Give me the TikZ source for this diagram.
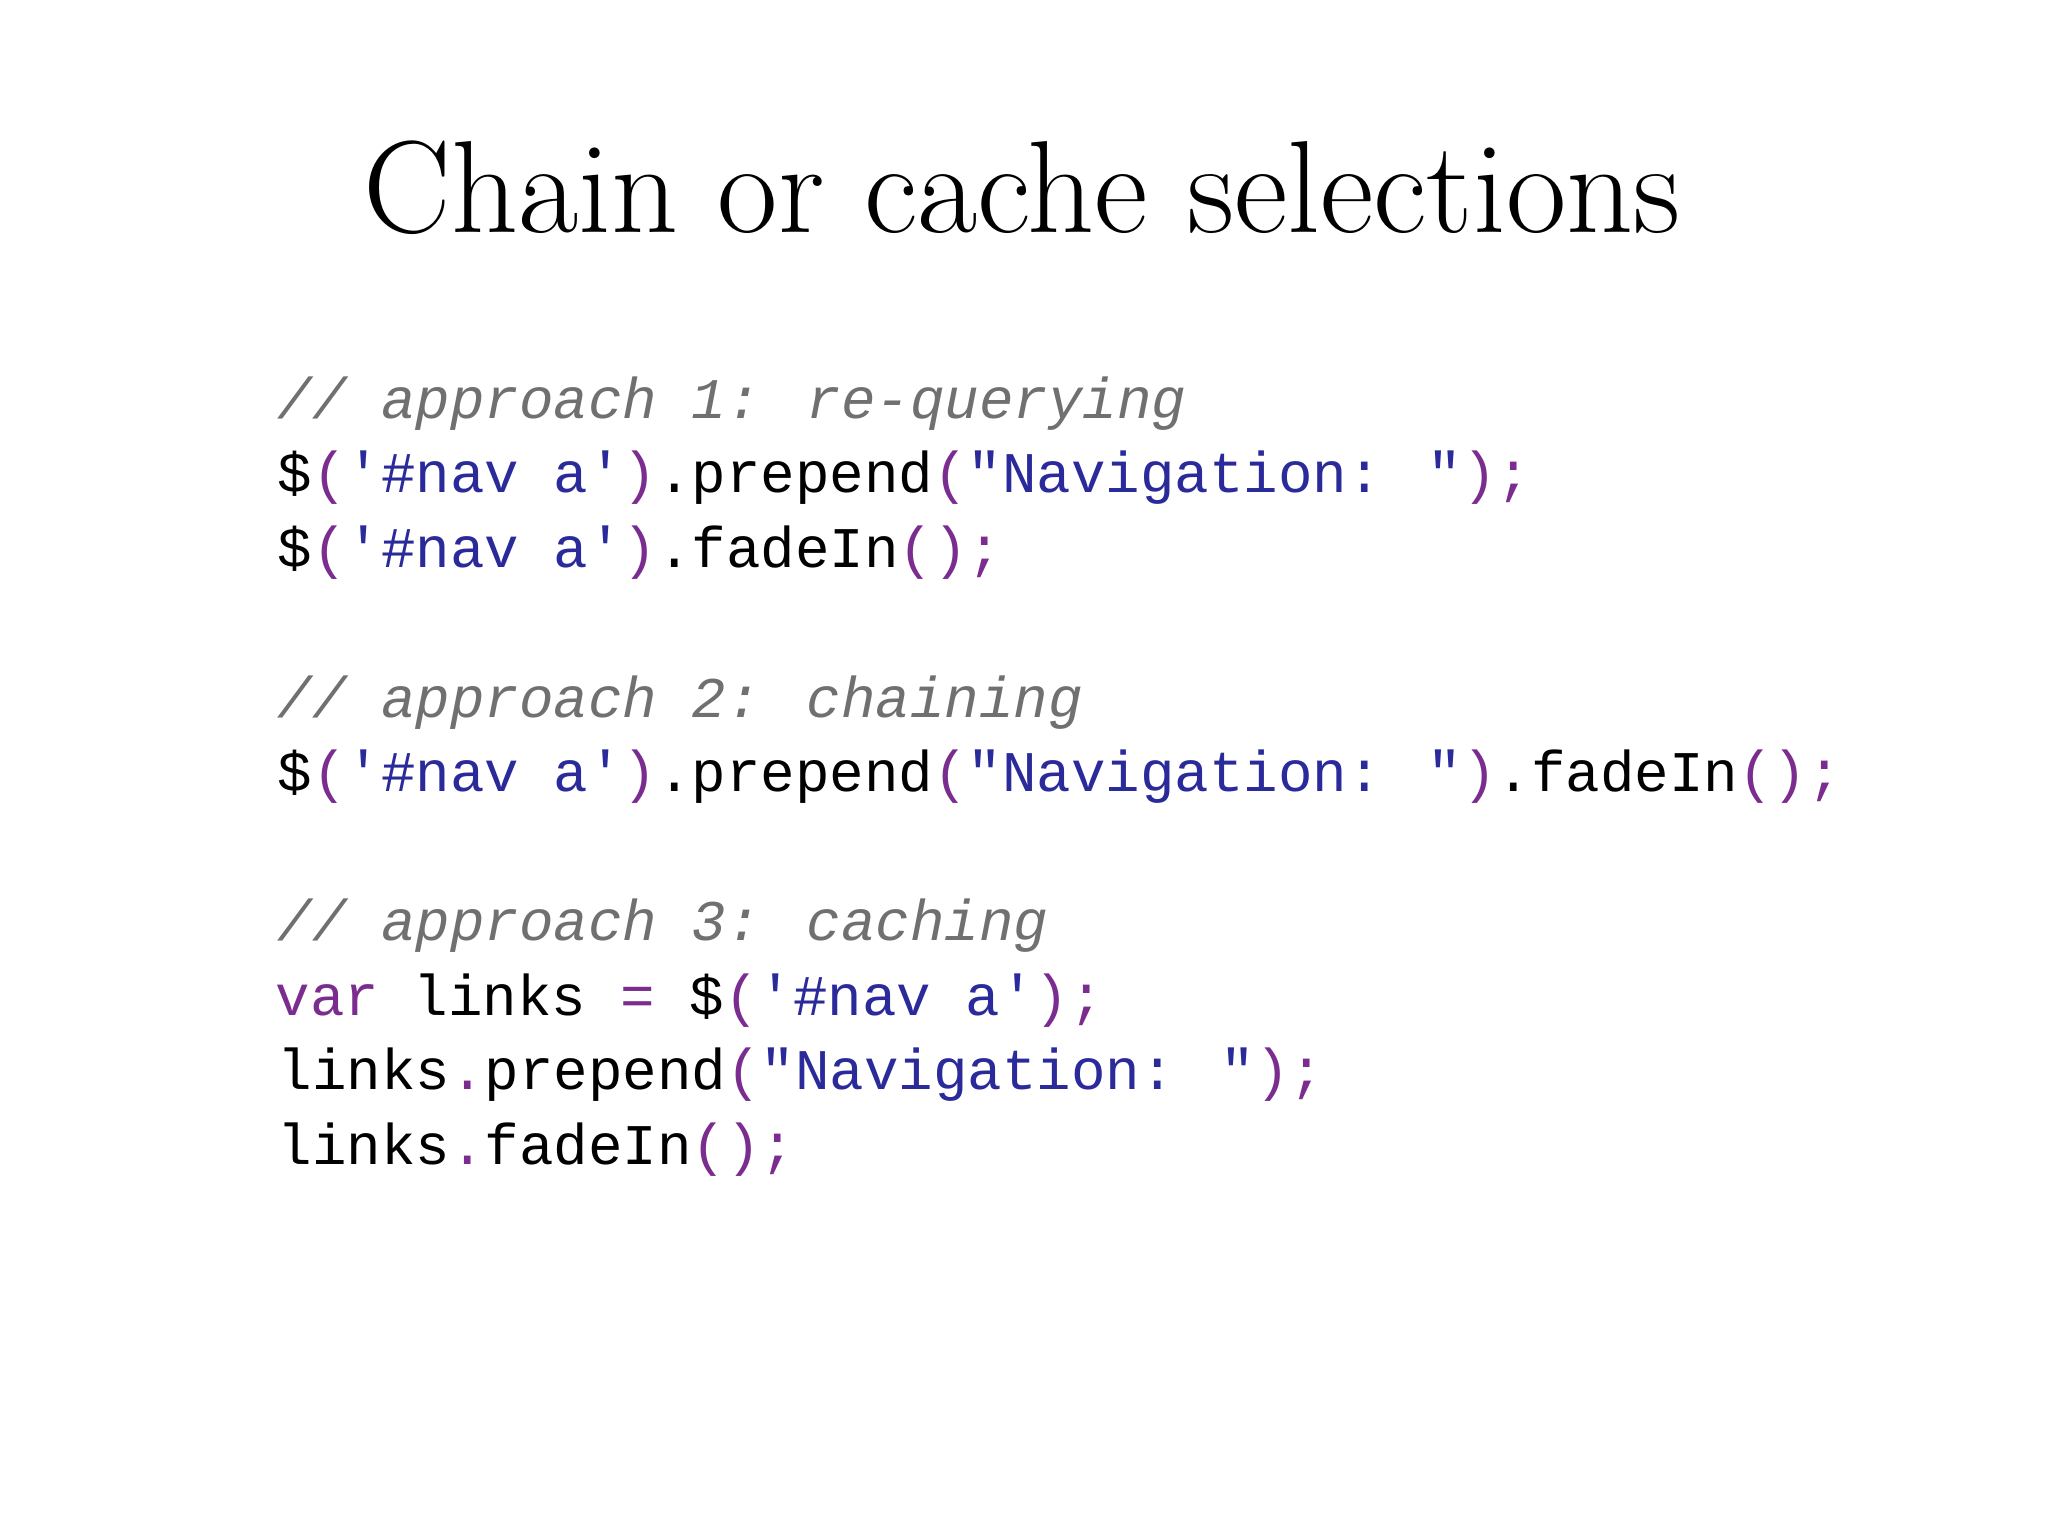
\documentclass[tikz,border=0pt]{standalone}
\usepackage{fontspec}
\newfontfamily\codefont{Liberation Mono}
\definecolor{cmt}{HTML}{707070}
\definecolor{str}{HTML}{2A2A9A}
\definecolor{pun}{HTML}{7B2C8F}
\newcommand{\Cm}[1]{\textcolor{cmt}{\itshape #1}}
\newcommand{\St}[1]{\textcolor{str}{#1}}
\newcommand{\Pu}[1]{\textcolor{pun}{#1}}
\tikzset{codeline/.style={anchor=base west,inner sep=0pt,font=\codefont\fontsize{16.35}{18}\selectfont}}
\begin{document}
\begin{tikzpicture}[x=0.01cm,y=-0.01cm]
\fill[white] (0,0) rectangle (2048,1535);
\node[anchor=base,inner sep=0pt,font=\fontsize{37.3}{44}\selectfont] (title) at (1022,232) {Chain or cache selections};
\node[codeline] (l1) at (277,418) {\Cm{// approach 1: re-querying}};
\node[codeline] (l2) at (277,492) {\$\Pu{(}\St{'\#nav a'}\Pu{)}.prepend\Pu{(}\St{"Navigation: "}\Pu{);}};
\node[codeline] (l3) at (277,567) {\$\Pu{(}\St{'\#nav a'}\Pu{)}.fadeIn\Pu{();}};
\node[codeline] (l4) at (277,717) {\Cm{// approach 2: chaining}};
\node[codeline] (l5) at (277,791) {\$\Pu{(}\St{'\#nav a'}\Pu{)}.prepend\Pu{(}\St{"Navigation: "}\Pu{)}.fadeIn\Pu{();}};
\node[codeline] (l6) at (277,940) {\Cm{// approach 3: caching}};
\node[codeline] (l7) at (275,1015) {\Pu{var} links \Pu{=} \$\Pu{(}\St{'\#nav a'}\Pu{);}};
\node[codeline] (l8) at (277,1089) {links\Pu{.}prepend\Pu{(}\St{"Navigation: "}\Pu{);}};
\node[codeline] (l9) at (277,1164) {links\Pu{.}fadeIn\Pu{();}};
\end{tikzpicture}
\end{document}
